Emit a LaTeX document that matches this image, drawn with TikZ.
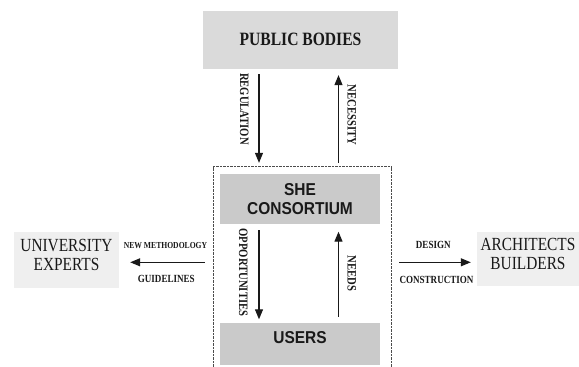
\documentclass[tikz,border=0pt]{standalone}
\usepackage{fontspec}
\setmainfont{Liberation Serif}[FakeStretch=0.83]
\setsansfont{Liberation Sans}[FakeStretch=0.9]
\usetikzlibrary{arrows.meta,positioning,calc}
\definecolor{pubgray}{RGB}{218,218,218}
\definecolor{coregray}{RGB}{202,202,202}
\definecolor{sidegray}{RGB}{239,239,239}
\definecolor{ink}{RGB}{25,25,25}

\begin{document}
\begin{tikzpicture}[x=1pt,y=-1pt,
  pb/.style={fill=pubgray,minimum width=195pt,minimum height=58.3pt,text=ink,
             font=\fontsize{18.8}{20}\selectfont\bfseries,align=center},
  core/.style={fill=coregray,minimum width=160pt,inner sep=0pt,text=ink,
             font=\fontsize{17.2}{19.5}\selectfont\sffamily\bfseries,align=center},
  side/.style={fill=sidegray,inner sep=0pt,text=ink,text depth=10pt,
             font=\fontsize{18.5}{19}\selectfont,align=center},
  frm/.style={draw=black!70,dash pattern=on 0.7pt off 0.7pt,line width=0.7pt,
             minimum width=178pt,minimum height=210pt},
  fl/.style={-{Triangle[length=10pt,width=8pt]},line width=1.1pt,color=ink},
  vlbl/.style={rotate=-90,font=\fontsize{12.8}{14}\selectfont\bfseries,
             inner sep=0pt,text=ink},
  hlbl/.style={font=\fontsize{10.9}{12}\selectfont\bfseries,inner sep=0pt,text=ink}
]
\useasboundingbox (0,0) rectangle (579,367);
\clip (0,0) rectangle (579,367);

% boxes
\node[pb] (pub) at (300.5,39.8) {PUBLIC BODIES};
\node[frm] (frame) at (302,271.7) {};
\node[core,minimum height=50pt] (she) at (300,199) {SHE\\CONSORTIUM};
\node[core,minimum height=42pt,text height=12.3pt,text depth=14pt]
    (users) at (300,344) {USERS};
\node[side,minimum width=105pt,minimum height=56pt] (uni) at (66.5,260)
    {UNIVERSITY\\EXPERTS};
\node[side,minimum width=102pt,minimum height=54pt] (arch) at (528,259)
    {ARCHITECTS\\BUILDERS};

% public bodies <-> consortium
\draw[fl] ($(pub.south -| she.center)+(-41,5)$)
    -- ($(frame.north -| she.center)+(-41,-3.5)$);
\draw[fl] ($(frame.north -| she.center)+(38.5,-3.5)$)
    -- ($(pub.south -| she.center)+(38.5,6)$);
\node[vlbl] (regul) at (244.3,109) {REGULATION};
\node[vlbl] (necess) at (351.7,115) {NECESSITY};

% consortium <-> users
\draw[fl] ($(she.south)+(-41,6)$) -- ($(users.north)+(-41,-3.5)$);
\draw[fl] ($(users.north)+(38.5,-6)$) -- ($(she.south)+(38.5,7.5)$);
\node[vlbl] (oppor) at (243.3,272.5) {OPPORTUNITIES};
\node[vlbl] (needs) at (351.7,273.3) {NEEDS};

% consortium -> university experts
\draw[fl] ($(frame.west |- uni.east)+(-8,2.3)$) -- ($(uni.east)+(11,2.3)$);
\node[hlbl,font=\fontsize{9.2}{10}\selectfont\bfseries] (newmeth) at (165.5,245.5)
    {NEW METHODOLOGY};
\node[hlbl] (guide) at (166.3,279.2) {GUIDELINES};

% consortium -> architects builders
\draw[fl] ($(frame.east |- arch.west)+(8,3.3)$) -- ($(arch.west)+(-6,3.3)$);
\node[hlbl] (design) at (433.3,245.3) {DESIGN};
\node[hlbl] (constr) at (436.5,279.7) {CONSTRUCTION};

\end{tikzpicture}
\end{document}
